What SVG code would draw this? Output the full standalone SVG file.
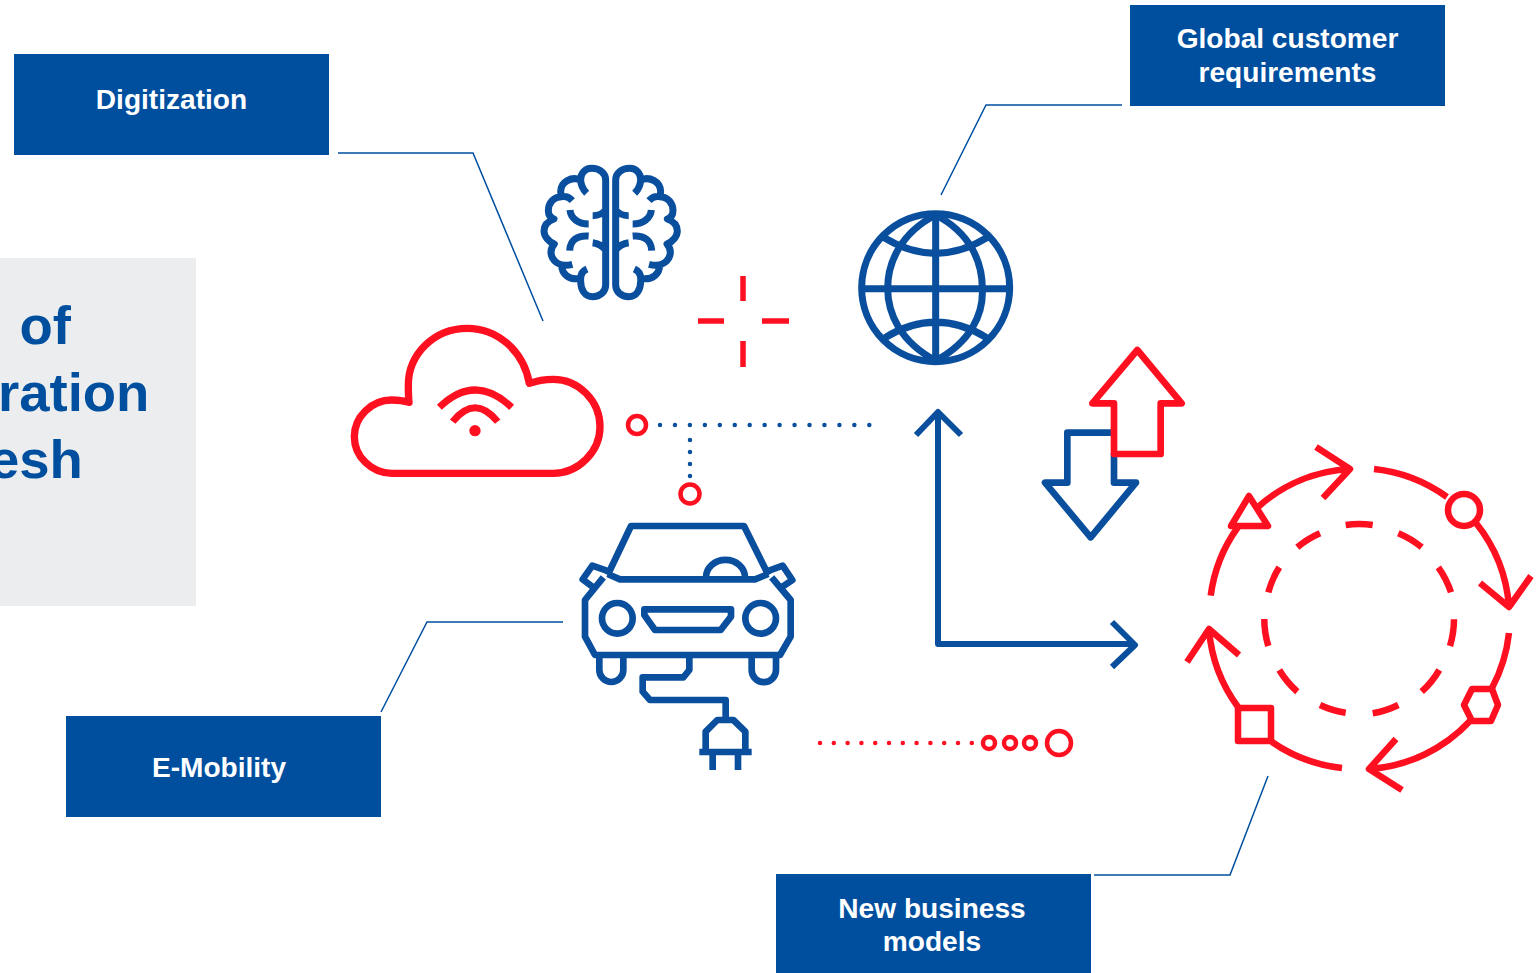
<svg xmlns="http://www.w3.org/2000/svg" width="1537" height="973" viewBox="0 0 1537 973">
<style>
.box{fill:#004f9f}
.lbl{font-family:"Liberation Sans",Arial,sans-serif;font-weight:700;font-size:28.1px;fill:#fff;text-anchor:middle}
.big{font-family:"Liberation Sans",Arial,sans-serif;font-weight:700;font-size:54.5px;fill:#004f9f}
.n{fill:none;stroke:#0a4f9e;stroke-linejoin:round}
.r{fill:none;stroke:#ff1020;stroke-linejoin:round}
.lead{fill:none;stroke:#004f9f;stroke-width:1.5}
.z{stroke-width:21}
</style>
<defs>
<g id="brainHalf">
<path d="M257 180V90C257 68 238 55 215 55C195 55 182 70 182 88C182 105 188 118 200 130M182 90C155 78 122 95 122 125C122 132 124 136 126 140C135 138 148 142 157 152M126 140C100 140 85 160 85 182C85 195 92 203 102 207C80 215 72 230 72 243C72 258 85 275 103 282C92 295 90 310 98 325C108 342 130 350 157 343M125 345C125 370 145 392 182 385C182 370 190 362 201 357M182 385C180 420 195 440 218 440C240 440 257 425 257 405V180M150 180C152 205 175 222 206 222M206 258C170 255 150 272 149 302M218 197C235 197 248 192 257 180M218 278C235 280 248 288 257 300" class="n z"/>
</g>
</defs>
<rect id="panel" x="0" y="258" width="196" height="348" fill="#ecedef"/>
<g id="title">
<text class="big" x="19.500" y="344">of</text>
<text class="big" x="-2" y="411">ration</text>
<text class="big" x="-11" y="478">esh</text>
</g>
<g id="connectors">
<path class="lead" d="M338 153H473L543 321"/>
<path class="lead" d="M1122 105H986L941 195"/>
<path class="lead" d="M563 622H427L381 712"/>
<path class="lead" d="M1094 875H1230L1268 776"/>
<path class="n" stroke-width="6" d="M938 412V644H1135M916 435L938 412L961 435M1112 622L1135 645L1112 667"/>
<path d="M660 425H872" fill="none" stroke="#0a4f9e" stroke-width="4.500" stroke-linecap="round" stroke-dasharray="0 14.950"/>
<path d="M690 440V478" fill="none" stroke="#0a4f9e" stroke-width="4.500" stroke-linecap="round" stroke-dasharray="0 12"/>
<path d="M820 743H972" fill="none" stroke="#ff1020" stroke-width="4.500" stroke-linecap="round" stroke-dasharray="0 13.800"/>
<circle class="r" stroke-width="4.500" cx="637" cy="425" r="9"/>
<circle class="r" stroke-width="4.500" cx="690" cy="494" r="9.500"/>
<circle class="r" stroke-width="4.500" cx="989" cy="743" r="6"/>
<circle class="r" stroke-width="4.500" cx="1010" cy="743" r="6"/>
<circle class="r" stroke-width="4.500" cx="1030" cy="743" r="6"/>
<circle class="r" stroke-width="4.500" cx="1059" cy="743" r="12"/>
</g>
<g id="digitization"><rect class="box" x="14" y="54" width="315" height="101"/><text class="lbl" x="171.500" y="109">Digitization</text></g>
<g id="global-customer"><rect class="box" x="1130" y="5" width="315" height="101"/><text class="lbl" x="1287.500" y="48">Global customer</text><text class="lbl" x="1287.500" y="82">requirements</text></g>
<g id="e-mobility"><rect class="box" x="66" y="716" width="315" height="101"/><text class="lbl" x="219" y="777">E-Mobility</text></g>
<g id="new-business"><rect class="box" x="776" y="874" width="315" height="99"/><text class="lbl" x="932" y="918">New business</text><text class="lbl" x="932" y="951">models</text></g>
<g id="brain" transform="translate(520 150) scale(.33333)">
<use href="#brainHalf"/>
<use href="#brainHalf" transform="translate(544 0) scale(-1 1)"/>
</g>
<g id="cloud" transform="translate(340 310) scale(.33333)">
<path class="r" stroke-width="22" d="M155 490H640C715 490 780 425 780 350C780 272 715 208 640 208C615 208 590 212 568 220C550 120 470 55 382 55C280 55 205 135 205 225C205 245 205 260 207 277C185 270 170 270 155 270C95 270 43 320 43 380C43 440 95 490 155 490Z"/>
<path class="r" stroke-width="21" d="M298 292Q405 188 515 292M338 335Q405 251 473 335"/>
<circle cx="405" cy="362" r="17" fill="#ff1020"/>
</g>
<g id="crosshair"><path class="r" stroke-width="5.500" d="M743 276V301M743 341V367M698 321H724M762 321H789"/></g>
<g id="globe" transform="translate(840 190) scale(.33333)" class="n" stroke-width="21">
<circle cx="287" cy="293" r="222"/>
<path d="M287 75C180 130 143 220 143 295C143 370 180 455 287 512C394 455 431 370 427 295C427 220 394 130 287 75Z"/>
<path d="M287 72V514M65 296H509M130 142Q287 238 443 142M135 443Q287 350 440 443"/>
</g>
<g id="car" transform="translate(560 500) scale(.33333)" class="n" stroke-width="20">
<path d="M143 225L213 78H552L625 225"/>
<path d="M143 222L180 238H585L625 222"/>
<path d="M130 232L75 300V410L105 465H660L692 410V300L635 232"/>
<path d="M140 212L97 197L68 238L100 262"/>
<path d="M627 212L668 197L697 240L665 262"/>
<path d="M438 232A58 52 0 0 1 555 232"/>
<path d="M253 328H513V350L482 390H285L253 345Z"/>
<circle cx="172" cy="355" r="46"/>
<circle cx="602" cy="355" r="46"/>
<path d="M118 470V510A36 36 0 0 0 190 510V470M575 470V510A36 36 0 0 0 648 510V470"/>
<path d="M388 465V510L370 532H248V575L270 600H497V660"/>
<path d="M437 750V695L472 660H520L556 695V750"/>
<path d="M418 756H575M458 756V810M534 756V810" stroke-linejoin="miter"/>
</g>
<g id="exchange-arrows" transform="translate(1030 340) scale(.33333)">
<path class="n" stroke-width="20" d="M252 340V428H318L182 592L45 428H112V278H245"/>
<path class="r" stroke-width="20" d="M322 30L455 190H392V342H252V190H187Z"/>
</g>
<g id="cycle">
<path class="r" stroke-width="6.500" d="M1210.700 595.700A150 150 0 0 1 1238 527M1258 507A150 150 0 0 1 1350 469M1316 447L1350 469L1323 498"/>
<path class="r" stroke-width="6.500" d="M1374 469A152 152 0 0 1 1447 497M1476 523A152 152 0 0 1 1509 607M1480 583L1509 607L1531 576"/>
<path class="r" stroke-width="6.500" d="M1509 633A152 152 0 0 1 1492 688M1470 721A152 152 0 0 1 1370 769M1396 739L1369 769L1402 790"/>
<path class="r" stroke-width="6.500" d="M1342 768A152 152 0 0 1 1272 742M1238 707A152 152 0 0 1 1209 630M1187 662L1209 629L1239 655"/>
<path class="r" stroke-width="6.500" d="M1249 496L1268 526H1231Z"/>
<circle class="r" stroke-width="6.500" cx="1464" cy="510" r="16"/>
<path class="r" stroke-width="6.500" d="M1472 689H1492L1498 705L1491 721H1472L1464 705Z"/>
<rect class="r" stroke-width="6.500" x="1238" y="708" width="33" height="33"/>
<path class="r" stroke-width="6.500" d="M1345.700 525A94 94 0 0 1 1372.700 525M1398.300 533.300A94 94 0 0 1 1421.700 547.300M1438.300 567.300A94 94 0 0 1 1451 592.300M1454 619.300A94 94 0 0 1 1450 646M1439.300 670A94 94 0 0 1 1421.700 691.700M1398.300 705A94 94 0 0 1 1372.700 713.300M1345.700 712.700A94 94 0 0 1 1320 705M1297.300 691.700A94 94 0 0 1 1279.300 670M1268.300 646A94 94 0 0 1 1264.300 619M1268.300 592.300A94 94 0 0 1 1279.300 567.300M1297.300 547.300A94 94 0 0 1 1320 533.300"/>
</g>
</svg>
